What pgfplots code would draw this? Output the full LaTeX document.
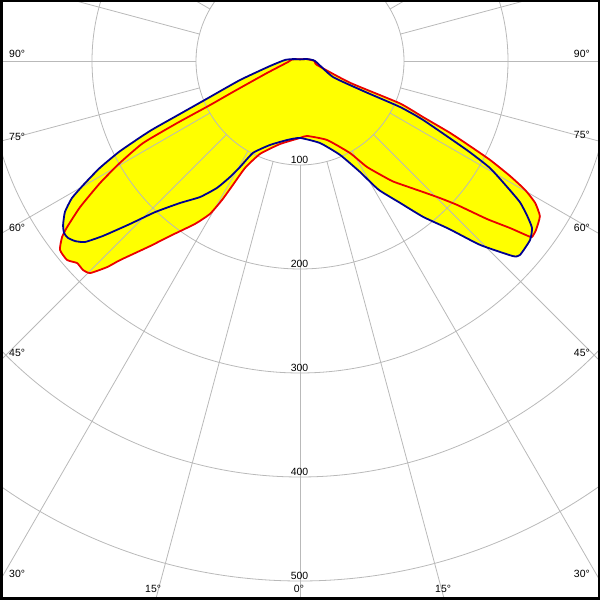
\documentclass[border=0pt]{standalone}
\usepackage{fontspec}
\setmainfont{Liberation Sans}
\usepackage{pgfplots}
\usepackage{pgfplotstable}
\pgfplotsset{compat=1.18}
\definecolor{gridc}{RGB}{185,185,185}
\definecolor{cblue}{RGB}{0,0,145}
\definecolor{cred}{RGB}{235,0,0}
\definecolor{cyel}{RGB}{255,255,0}

\pgfplotstableread{
a r
-270 1.5
-240 2
-210 3.5
-195 7
-184 14.4
-170.5 29.2
-162.4 60.5
-158.2 93.2
-156.2 126.1
-155 159.2
-153.4 193.5
-151.9 218.1
-150.4 237.7
-149 255.8
-147.3 268.6
-145.3 277.1
-143.9 280.8
-142.7 280.6
-141.3 277
-139.9 270.2
-138.4 253.4
-136.2 226.4
-133.8 201.3
-130.2 178.8
-126.3 162.3
-123.2 145.9
-121.1 130.3
-119.5 117.1
-117.1 99.3
-109.7 85.8
-99.3 77
-90 74
-76.3 81.2
-66.9 98.2
-61.6 121.3
-58.6 145
-54.8 167
-51.7 191
-48.4 216
-45.6 247.5
-42.5 277.7
-41.4 282
-37.9 280.3
-35.75 274.9
-34.2 263.8
-32.7 251.3
-31.4 234.3
-29.4 209.7
-28.1 182
-25.6 131.2
-24.7 105.8
-25.3 71.4
-25.9 35.3
0 14.4
15 7
30 3.5
60 2
90 1.5
}\bluedata

\pgfplotstableread{
a r
-270 1.5
-240 2
-210 3.5
-190 8
-175 11.6
-160 33.8
-155.2 71
-153.9 96.3
-153.2 132.4
-152.4 170.3
-150.5 199
-148.6 225.3
-146.4 253.9
-144.5 275.1
-143.5 284.6
-141.8 293.7
-139.5 294.6
-137.8 289.3
-136.1 289.7
-134.7 286.9
-133.1 271.4
-132.1 258
-129 229
-126.6 209.6
-122.8 186.4
-120.5 170.7
-119.3 153.3
-118.5 136.8
-117.2 115.7
-113.3 97.3
-103.5 82.1
-90 74
-84.7 72.4
-71.1 80.3
-61.5 100.7
-57.7 120.6
-52.9 143.5
-51.5 149.9
-46.8 172.8
-44.4 188.4
-42.5 204.8
-40.2 235.4
-38.5 258
-37.5 276.4
-37.2 280
-35.6 279.1
-32.9 274.7
-31.1 264
-29.8 249.4
-28.7 230.2
-27.5 206
-26.6 182.8
-25.6 160
-24.5 130
-23 104.3
-23.5 52.5
-13.2 16.8
0 14
15 7
30 3.5
60 2
90 1.5
}\reddata

\newcommand{\lab}{\fontsize{10.5}{12}\selectfont}

\begin{document}
\begin{tikzpicture}
\begin{axis}[
  x=1.04bp, y=1.04bp,
  xmin=-288.46, xmax=288.46, ymin=-518.27, ymax=58.65,
  axis line style={black, line width=5bp},
  axis on top,
  xtick=\empty, ytick=\empty,
  clip=true,
]
% fills (union of both curves)
\addplot[draw=none, fill=cyel, smooth, tension=0.3, data cs=polar, forget plot] table[x=a,y=r]{\reddata};
\addplot[draw=none, fill=cyel, smooth, tension=0.3, data cs=polar, forget plot] table[x=a,y=r]{\bluedata};

% grid circles
\draw[gridc, line width=0.8bp] (axis cs:0,0) circle[radius=100];
\draw[gridc, line width=0.8bp] (axis cs:0,0) circle[radius=200];
\draw[gridc, line width=0.8bp] (axis cs:0,0) circle[radius=300];
\draw[gridc, line width=0.8bp] (axis cs:0,0) circle[radius=400];
\draw[gridc, line width=0.8bp] (axis cs:0,0) circle[radius=500];

% radial grid lines
\addplot[gridc, line width=0.8bp, data cs=polar, forget plot] coordinates {(-210,100) (-210,700)};
\addplot[gridc, line width=0.8bp, data cs=polar, forget plot] coordinates {(-195,100) (-195,700)};
\addplot[gridc, line width=0.8bp, data cs=polar, forget plot] coordinates {(-180,100) (-180,700)};
\addplot[gridc, line width=0.8bp, data cs=polar, forget plot] coordinates {(-165,100) (-165,700)};
\addplot[gridc, line width=0.8bp, data cs=polar, forget plot] coordinates {(-150,100) (-150,700)};
\addplot[gridc, line width=0.8bp, data cs=polar, forget plot] coordinates {(-135,100) (-135,700)};
\addplot[gridc, line width=0.8bp, data cs=polar, forget plot] coordinates {(-120,100) (-120,700)};
\addplot[gridc, line width=0.8bp, data cs=polar, forget plot] coordinates {(-105,100) (-105,700)};
\addplot[gridc, line width=0.8bp, data cs=polar, forget plot] coordinates {(-90,100) (-90,700)};
\addplot[gridc, line width=0.8bp, data cs=polar, forget plot] coordinates {(-75,100) (-75,700)};
\addplot[gridc, line width=0.8bp, data cs=polar, forget plot] coordinates {(-60,100) (-60,700)};
\addplot[gridc, line width=0.8bp, data cs=polar, forget plot] coordinates {(-45,100) (-45,700)};
\addplot[gridc, line width=0.8bp, data cs=polar, forget plot] coordinates {(-30,100) (-30,700)};
\addplot[gridc, line width=0.8bp, data cs=polar, forget plot] coordinates {(-15,100) (-15,700)};
\addplot[gridc, line width=0.8bp, data cs=polar, forget plot] coordinates {(0,100) (0,700)};
\addplot[gridc, line width=0.8bp, data cs=polar, forget plot] coordinates {(15,100) (15,700)};
\addplot[gridc, line width=0.8bp, data cs=polar, forget plot] coordinates {(30,100) (30,700)};

% radial value labels
\node[anchor=base, inner sep=0, font=\lab] at (axis cs:-0.5,-98.1) {100};
\node[anchor=base, inner sep=0, font=\lab] at (axis cs:-0.5,-198.1) {200};
\node[anchor=base, inner sep=0, font=\lab] at (axis cs:-0.5,-298.1) {300};
\node[anchor=base, inner sep=0, font=\lab] at (axis cs:-0.5,-398.1) {400};
\node[anchor=base, inner sep=0, font=\lab] at (axis cs:-0.5,-498.1) {500};

% angle labels
\node[anchor=base west, inner sep=0, font=\lab] at (axis cs:-279.8,2.9) {90°};
\node[anchor=base west, inner sep=0, font=\lab] at (axis cs:-279.8,-76.0) {75°};
\node[anchor=base west, inner sep=0, font=\lab] at (axis cs:-279.8,-164.4) {60°};
\node[anchor=base west, inner sep=0, font=\lab] at (axis cs:-279.8,-284.6) {45°};
\node[anchor=base west, inner sep=0, font=\lab] at (axis cs:-279.8,-497.1) {30°};
\node[anchor=base west, inner sep=0, font=\lab] at (axis cs:-149,-511.5) {15°};
\node[anchor=base, inner sep=0, font=\lab] at (axis cs:-1,-511.5) {0°};
\node[anchor=base west, inner sep=0, font=\lab] at (axis cs:129.8,-511.5) {15°};
\node[anchor=base east, inner sep=0, font=\lab] at (axis cs:278.8,-497.1) {30°};
\node[anchor=base east, inner sep=0, font=\lab] at (axis cs:278.8,-284.6) {45°};
\node[anchor=base east, inner sep=0, font=\lab] at (axis cs:278.8,-164.4) {60°};
\node[anchor=base east, inner sep=0, font=\lab] at (axis cs:278.8,-75.0) {75°};
\node[anchor=base east, inner sep=0, font=\lab] at (axis cs:278.8,2.9) {90°};

% curves
\addplot[cred, line width=1.8bp, line join=round, smooth, tension=0.3, data cs=polar, forget plot] table[x=a,y=r]{\reddata};
\addplot[cblue, line width=1.8bp, line join=round, smooth, tension=0.3, data cs=polar, forget plot] table[x=a,y=r]{\bluedata};
\end{axis}
\pgfresetboundingbox
\path[use as bounding box] (current axis.south west) rectangle (current axis.north east);
\end{tikzpicture}
\end{document}
